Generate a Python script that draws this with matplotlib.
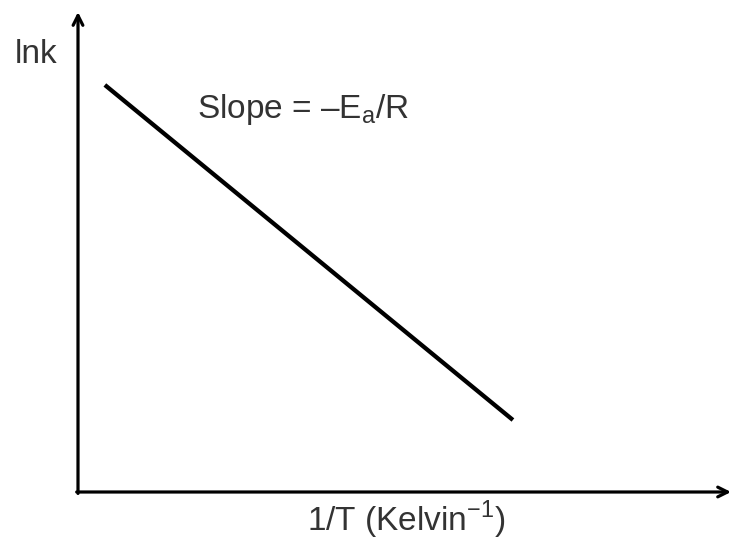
import matplotlib
matplotlib.use("Agg")
import matplotlib.pyplot as plt

# Data (schematic Arrhenius plot, in axis fraction units)
inv_T = [0.041, 0.664]
ln_k = [0.848, 0.150]

x_label = "1/T (Kelvin$^{\\mathregular{\u22121}}$)"
y_label = "lnk"
slope_text = "Slope = \u2013E$_{\\mathregular{a}}$/R"

plt.rcParams["font.family"] = ["Liberation Sans", "DejaVu Sans"]
plt.rcParams["mathtext.fontset"] = "custom"
plt.rcParams["mathtext.rm"] = "Liberation Sans"

W, H = 733, 542
fig = plt.figure(figsize=(W / 100, H / 100), dpi=100)
x0, y0 = 78, 492  # axis origin in pixels (from top)
ax = fig.add_axes([x0 / W, (H - y0) / H, (W - x0) / W, (y0 - 12) / H])
ax.set_xlim(0, 1)
ax.set_ylim(0, 1)
ax.axis("off")

ax.plot(inv_T, ln_k, color="black", lw=3.1, solid_capstyle="butt")

arrow = dict(arrowstyle="->,head_length=0.7,head_width=0.35", lw=2.3, color="black",
             shrinkA=0, shrinkB=0)
ax.annotate("", xy=(0, 1), xytext=(0, -0.003), xycoords="axes fraction", arrowprops=arrow,
            annotation_clip=False)
ax.annotate("", xy=(0.997, 0), xytext=(-0.002, 0), xycoords="axes fraction", arrowprops=arrow,
            annotation_clip=False)

tc = "#333333"
fig.text(15 / W, 1 - 63 / H, y_label, ha="left", va="baseline", fontsize=24, color=tc)
fig.text(197 / W, 1 - 118 / H, slope_text, ha="left", va="baseline", fontsize=24, color=tc)
fig.text(406 / W, 1 - 531 / H, x_label, ha="center", va="baseline", fontsize=24, color=tc)

fig.savefig("out.png", dpi=100)
